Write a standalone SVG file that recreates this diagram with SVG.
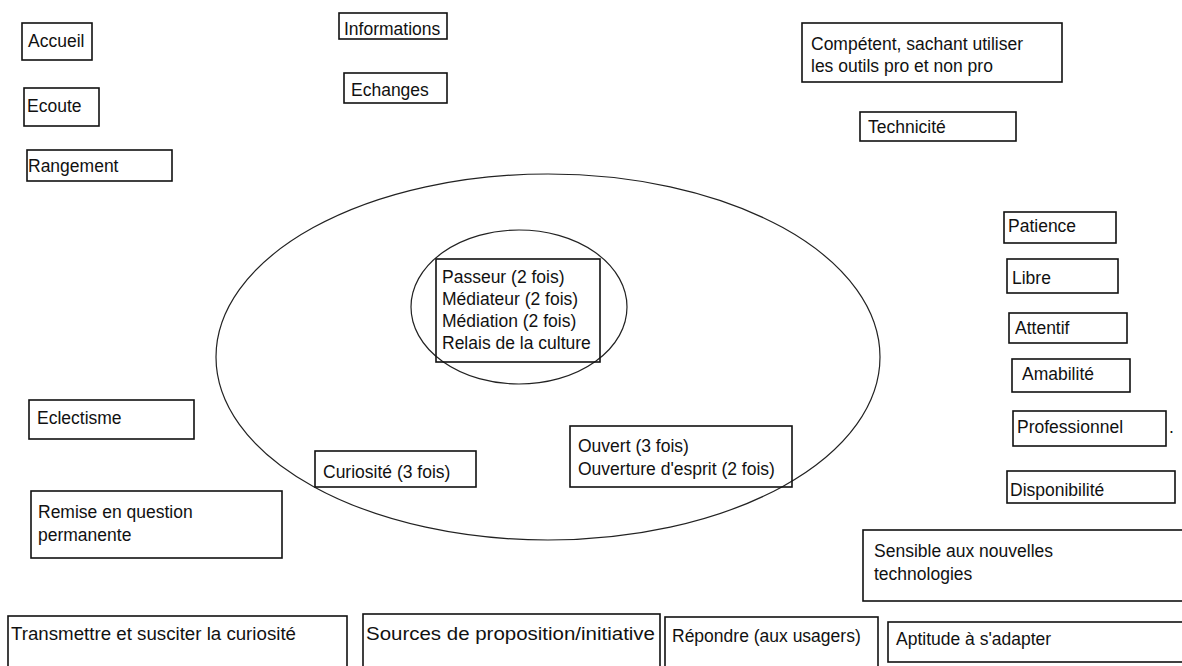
<svg xmlns="http://www.w3.org/2000/svg" width="1182" height="666" viewBox="0 0 1182 666">
<style>
.b{fill:none;stroke:#111;stroke-width:1.6}
.e{fill:none;stroke:#222;stroke-width:1.2}
text{font-family:"Liberation Sans",Arial,sans-serif;font-size:17.5px;fill:#111}
</style>
<rect x="0" y="0" width="1182" height="666" fill="#fff"/>
<g id="cercle-exterieur"><ellipse class="e" cx="548" cy="357" rx="332" ry="183"/></g>
<g id="cercle-interieur"><ellipse class="e" cx="519" cy="307" rx="108" ry="77"/></g>
<g id="connectors"></g>
<g id="accueil"><rect class="b" x="22" y="23" width="70" height="37"/><text x="28" y="47">Accueil</text></g>
<g id="ecoute"><rect class="b" x="24" y="88" width="75" height="38"/><text x="27" y="112">Ecoute</text></g>
<g id="rangement"><rect class="b" x="27" y="150" width="145" height="31"/><text x="28" y="172">Rangement</text></g>
<g id="informations"><rect class="b" x="339" y="13" width="108" height="26"/><text x="344" y="35">Informations</text></g>
<g id="echanges"><rect class="b" x="344" y="73" width="103" height="30"/><text x="351" y="96">Echanges</text></g>
<g id="competent"><rect class="b" x="802" y="23" width="260" height="59"/><text x="811" y="50">Compétent, sachant utiliser</text><text x="811" y="72">les outils pro et non pro</text></g>
<g id="technicite"><rect class="b" x="860" y="112" width="156" height="29"/><text x="868" y="133">Technicité</text></g>
<g id="patience"><rect class="b" x="1004" y="212" width="112" height="31"/><text x="1008" y="232">Patience</text></g>
<g id="libre"><rect class="b" x="1007" y="259" width="111" height="34"/><text x="1012" y="284">Libre</text></g>
<g id="attentif"><rect class="b" x="1009" y="313" width="118" height="30"/><text x="1015" y="334">Attentif</text></g>
<g id="amabilite"><rect class="b" x="1012" y="359" width="118" height="33"/><text x="1022" y="380">Amabilité</text></g>
<g id="professionnel"><rect class="b" x="1013" y="411" width="153" height="35"/><text x="1017" y="433">Professionnel</text><text x="1169" y="433">.</text></g>
<g id="disponibilite"><rect class="b" x="1007" y="471" width="168" height="32"/><text x="1010" y="496">Disponibilité</text></g>
<g id="passeur"><rect class="b" x="436" y="259" width="164" height="103"/><text x="442" y="283">Passeur (2 fois)</text><text x="442" y="305">Médiateur (2 fois)</text><text x="442" y="327">Médiation (2 fois)</text><text x="442" y="349">Relais de la culture</text></g>
<g id="eclectisme"><rect class="b" x="29" y="400" width="165" height="39"/><text x="37" y="424">Eclectisme</text></g>
<g id="remise"><rect class="b" x="31" y="491" width="251" height="67"/><text x="38" y="518">Remise en question</text><text x="38" y="541">permanente</text></g>
<g id="curiosite"><rect class="b" x="315" y="451" width="161" height="36"/><text x="323" y="478">Curiosité (3 fois)</text></g>
<g id="ouvert"><rect class="b" x="570" y="426" width="222" height="61"/><text x="578" y="452">Ouvert (3 fois)</text><text x="578" y="475">Ouverture d'esprit (2 fois)</text></g>
<g id="sensible"><rect class="b" x="863" y="530" width="330" height="71"/><text x="874" y="557">Sensible aux nouvelles</text><text x="874" y="580">technologies</text></g>
<g id="transmettre"><rect class="b" x="8" y="616" width="339" height="60"/><text x="11" y="640" textLength="285" lengthAdjust="spacingAndGlyphs">Transmettre et susciter la curiosité</text></g>
<g id="sources"><rect class="b" x="363" y="614" width="297" height="60"/><text x="366" y="640" textLength="289" lengthAdjust="spacingAndGlyphs">Sources de proposition/initiative</text></g>
<g id="repondre"><rect class="b" x="665" y="617" width="213" height="60"/><text x="672" y="642">Répondre (aux usagers)</text></g>
<g id="aptitude"><rect class="b" x="888" y="622" width="300" height="40"/><text x="896" y="645">Aptitude à s'adapter</text></g>
</svg>
